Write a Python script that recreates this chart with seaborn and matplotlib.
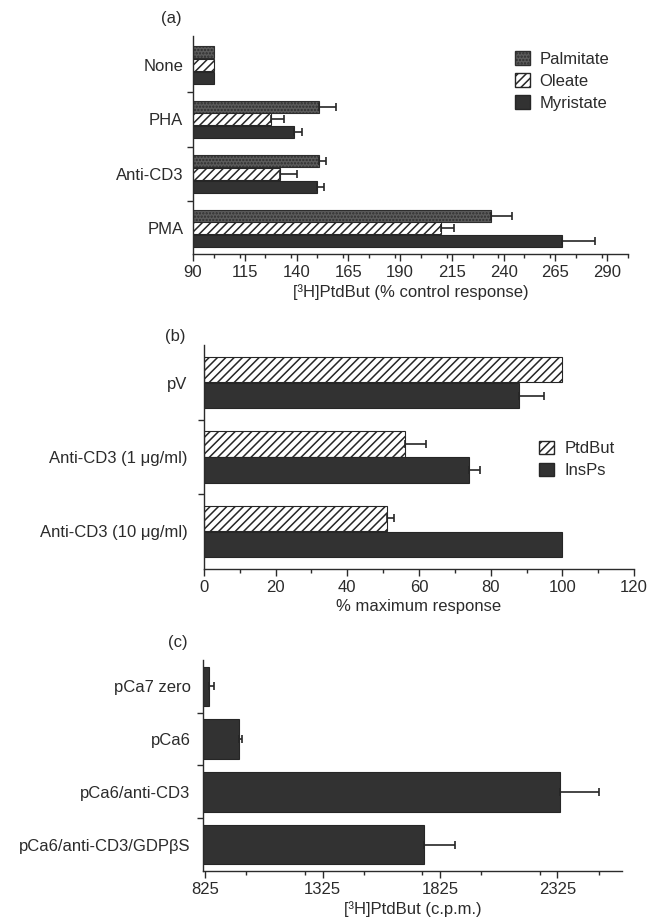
import numpy as np
import pandas as pd
import matplotlib
matplotlib.use("Agg")
import matplotlib.pyplot as plt
import seaborn as sns
from matplotlib.patches import Patch
from matplotlib.ticker import MultipleLocator, FixedLocator

# ---------------- data ----------------
# panel (a)
cats_a = ["None", "PHA", "Anti-CD3", "PMA"]
series_a = ["Palmitate", "Oleate", "Myristate"]
palmitate = [100, 151, 151, 234]
palmitate_err = [0, 8, 3, 10]
oleate = [100, 127.5, 132, 210]
oleate_err = [0, 6.5, 8, 6]
myristate = [100, 139, 150, 268]
myristate_err = [0, 3.5, 3.5, 16]
xticks_a = [90, 115, 140, 165, 190, 215, 240, 265, 290]

# panel (b)
cats_b = ["pV", "Anti-CD3 (1 μg/ml)", "Anti-CD3 (10 μg/ml)"]
series_b = ["PtdBut", "InsPs"]
ptdbut = [100, 56, 51]
ptdbut_err = [0, 6, 2]
insps = [88, 74, 100]
insps_err = [7, 3, 0]
xticks_b = [0, 20, 40, 60, 80, 100, 120]

# panel (c)
cats_c = ["pCa7 zero", "pCa6", "pCa6/anti-CD3", "pCa6/anti-CD3/GDPβS"]
cpm = [840, 970, 2335, 1755]
cpm_err = [22, 10, 165, 135]
xticks_c = [825, 1325, 1825, 2325]

# ---------------- style ----------------
sns.set_theme(style="ticks")
plt.rcParams["font.family"] = ["Liberation Sans", "DejaVu Sans"]
plt.rcParams["hatch.linewidth"] = 1.1
TXT = "#2b2b2b"
plt.rcParams["text.color"] = TXT
plt.rcParams["axes.labelcolor"] = TXT
plt.rcParams["xtick.color"] = TXT
plt.rcParams["ytick.color"] = TXT
FS = 12

styles = {
    "Palmitate": dict(facecolor="#5c5c5c", edgecolor="#2e2e2e", hatch="....."),
    "Oleate": dict(facecolor="white", edgecolor="#262626", hatch="////"),
    "Myristate": dict(facecolor="#323232", edgecolor="#262626", hatch=None),
}
styles["PtdBut"] = styles["Oleate"]
styles["InsPs"] = styles["Myristate"]
styles["cpm"] = styles["Myristate"]

fig = plt.figure(figsize=(6.49, 9.22), dpi=100)
ax_a = fig.add_axes([0.2974, 0.7245, 0.670, 0.2365])
ax_b = fig.add_axes([0.3143, 0.3829, 0.6626, 0.2429])
ax_c = fig.add_axes([0.3128, 0.0553, 0.6456, 0.2289])


def grouped(ax, cats, names, values, errs, width, gap):
    rows = []
    for n, vals in zip(names, values):
        for c, v in zip(cats, vals):
            rows.append({"cat": c, "series": n, "value": v})
    df = pd.DataFrame(rows)
    sns.barplot(data=df, x="value", y="cat", hue="series", order=cats,
                hue_order=names, orient="h", width=width, gap=gap,
                dodge=True, legend=False, ax=ax,
                palette={n: styles[n]["facecolor"] for n in names})
    for cont, n, e in zip(ax.containers, names, errs):
        st = styles[n]
        for bar, err in zip(cont, e):
            bar.set_facecolor(st["facecolor"])
            bar.set_edgecolor(st["edgecolor"])
            bar.set_linewidth(0.8)
            if st["hatch"]:
                bar.set_hatch(st["hatch"])
            if err > 0:
                ax.errorbar(bar.get_width(), bar.get_y() + bar.get_height() / 2,
                            xerr=[[0], [err]], fmt="none", ecolor="#262626",
                            elinewidth=1.2, capsize=3.2, capthick=1.2)


def style_axis(ax, xlim, ylim, xticks, minor, bounds, xlabel, ypad):
    ax.set_xlim(*xlim)
    ax.set_ylim(*ylim)
    ax.set_xticks(xticks)
    ax.set_xticklabels([str(t) for t in xticks], fontsize=FS)
    ax.xaxis.set_minor_locator(MultipleLocator(minor))
    ax.yaxis.set_minor_locator(FixedLocator(bounds))
    ax.tick_params(axis="y", which="major", length=0, pad=ypad, labelsize=FS)
    ax.tick_params(axis="y", which="minor", length=4, width=1, direction="out")
    ax.tick_params(axis="x", which="major", length=5, width=1, direction="out", pad=3)
    ax.tick_params(axis="x", which="minor", length=3, width=1, direction="out")
    ax.set_xlabel(xlabel, fontsize=FS, labelpad=3)
    ax.set_ylabel("")
    sns.despine(ax=ax)
    for s in ("left", "bottom"):
        ax.spines[s].set_color(TXT)
        ax.spines[s].set_linewidth(1.0)
    ax.set_facecolor("white")


# panel (a)
grouped(ax_a, cats_a, series_a, [palmitate, oleate, myristate],
        [palmitate_err, oleate_err, myristate_err], 0.7, 0.05)
style_axis(ax_a, (90, 300), (3.47, -0.53), xticks_a, 12.5, [0.5, 1.5, 2.5],
           "[³H]PtdBut (% control response)", 7)
ax_a.legend(handles=[Patch(label=n, **styles[n]) for n in series_a],
            loc="upper left", bbox_to_anchor=(0.705, 1.0), frameon=False,
            fontsize=FS, handlelength=0.9, handleheight=0.9,
            labelspacing=0.38, handletextpad=0.6)

# panel (b)
grouped(ax_b, cats_b, series_b, [ptdbut, insps], [ptdbut_err, insps_err], 0.7, 0.03)
style_axis(ax_b, (0, 120), (2.51, -0.51), xticks_b, 10, [0.5, 1.5],
           "% maximum response", 12)
ax_b.legend(handles=[Patch(label=n, **styles[n]) for n in series_b],
            loc="upper left", bbox_to_anchor=(0.745, 0.64), frameon=False,
            fontsize=FS, handlelength=0.9, handleheight=0.9,
            labelspacing=0.38, handletextpad=0.6)

# panel (c)
df_c = pd.DataFrame({"cat": cats_c, "value": cpm})
sns.barplot(data=df_c, x="value", y="cat", order=cats_c, orient="h",
            width=0.75, color=styles["cpm"]["facecolor"], ax=ax_c)
for bar, err in zip(ax_c.containers[0], cpm_err):
    bar.set_edgecolor(styles["cpm"]["edgecolor"])
    bar.set_linewidth(0.8)
    ax_c.errorbar(bar.get_width(), bar.get_y() + bar.get_height() / 2,
                  xerr=[[0], [err]], fmt="none", ecolor="#262626",
                  elinewidth=1.2, capsize=3.2, capthick=1.2)
style_axis(ax_c, (815, 2600), (3.5, -0.5), xticks_c, 250, [0.5, 1.5, 2.5],
           "[³H]PtdBut (c.p.m.)", 9)

fig.text(171 / 649, 1 - 18 / 922, "(a)", fontsize=FS, ha="center", va="center")
fig.text(175 / 649, 1 - 337 / 922, "(b)", fontsize=FS, ha="center", va="center")
fig.text(178 / 649, 1 - 642 / 922, "(c)", fontsize=FS, ha="center", va="center")

fig.savefig("out.png", dpi=100, facecolor="white")
